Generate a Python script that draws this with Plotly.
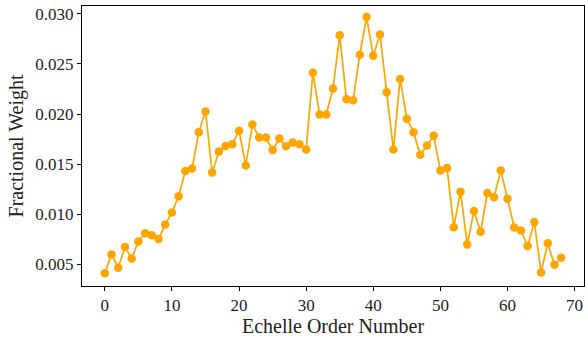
import plotly.graph_objects as go

orders = list(range(69))
weights = [
    0.00413, 0.00600, 0.00467, 0.00674, 0.00560, 0.00728, 0.00811, 0.00790, 0.00754, 0.00898,
    0.01019, 0.01180, 0.01431, 0.01457, 0.01819, 0.02026, 0.01417, 0.01625, 0.01682, 0.01698,
    0.01832, 0.01487, 0.01896, 0.01765, 0.01765, 0.01641, 0.01755, 0.01678, 0.01715, 0.01698,
    0.01645, 0.02411, 0.01996, 0.01996, 0.02254, 0.02786, 0.02147, 0.02137, 0.02592, 0.02967,
    0.02581, 0.02792, 0.02217, 0.01645, 0.02350, 0.01953, 0.01819, 0.01594, 0.01685, 0.01782,
    0.01437, 0.01461, 0.00872, 0.01226, 0.00698, 0.01032, 0.00825, 0.01213, 0.01170, 0.01437,
    0.01156, 0.00869, 0.00838, 0.00684, 0.00922, 0.00420, 0.00711, 0.00497, 0.00567,
]
x_ticks = [0, 10, 20, 30, 40, 50, 60, 70]
y_ticks = [0.005, 0.010, 0.015, 0.020, 0.025, 0.030]

fig = go.Figure()
fig.add_trace(go.Scatter(
    x=orders, y=weights, mode="lines+markers",
    line=dict(color="#FFA500", width=1.7),
    marker=dict(color="#FFA500", size=8.5),
    showlegend=False,
))

fam = "Liberation Serif, DejaVu Serif, serif"
tickfont = dict(family=fam, size=17, color="#222222")
titlefont = dict(family=fam, size=20, color="#222222")
fig.update_layout(
    width=585, height=338,
    margin=dict(l=82, r=1, t=6, b=52),
    paper_bgcolor="white", plot_bgcolor="white",
    font=dict(family=fam, size=17, color="black"),
)
fig.update_xaxes(
    range=[-3.4, 71.4], tickvals=x_ticks, ticks="outside", ticklen=4, tickwidth=1,
    tickcolor="black", showline=True, linecolor="black", linewidth=1, mirror=True,
    showgrid=False, zeroline=False, tickfont=tickfont,
    title=dict(text="Echelle Order Number", standoff=4, font=titlefont),
)
fig.update_yaxes(
    range=[0.00285, 0.03077], tickvals=y_ticks, tickformat=".3f", ticks="outside",
    ticklen=4, tickwidth=1, tickcolor="black", showline=True, linecolor="black",
    linewidth=1, mirror=True, showgrid=False, zeroline=False, tickfont=tickfont,
    title=dict(text="Fractional Weight", standoff=6, font=titlefont),
)
fig.write_html("out.html")
